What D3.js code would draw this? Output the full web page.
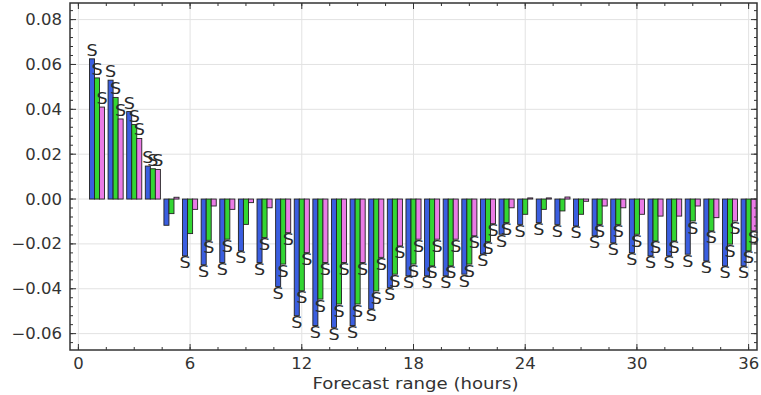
<!DOCTYPE html>
<html>
<head>
<meta charset="utf-8">
<script src="https://cdn.jsdelivr.net/npm/d3@7"></script>
<style>
  body { margin: 0; background: #fff; }
  text { font-family: "DejaVu Sans", sans-serif; }
</style>
</head>
<body>
<div id="mychart"></div>
<script>
// dados
var horas = [1,2,3,4,5,6,7,8,9,10,11,12,13,14,15,16,17,18,19,20,21,22,23,24,25,26,27,28,29,30,31,32,33,34,35,36];
var azul = [0.0625,0.053,0.039,0.0147,-0.0117,-0.0253,-0.0293,-0.0283,-0.0231,-0.0283,-0.039,-0.052,-0.0564,-0.0572,-0.0564,-0.049,-0.0394,-0.0342,-0.0342,-0.0342,-0.0335,-0.0245,-0.0157,-0.0113,-0.0105,-0.0113,-0.012,-0.0164,-0.0195,-0.0239,-0.0253,-0.0253,-0.0246,-0.0276,-0.0298,-0.0298];
var verde = [0.054,0.0453,0.0332,0.0135,-0.0065,-0.0154,-0.0184,-0.0179,-0.0113,-0.0172,-0.029,-0.0409,-0.0446,-0.0468,-0.0468,-0.041,-0.0335,-0.029,-0.0298,-0.0298,-0.029,-0.019,-0.0105,-0.0068,-0.0046,-0.0053,-0.0068,-0.0113,-0.0113,-0.0157,-0.0187,-0.0187,-0.0098,-0.0142,-0.0201,-0.0231];
var rosa = [0.041,0.0357,0.027,0.0132,0.0008,-0.0046,-0.0031,-0.0046,-0.0016,-0.0039,-0.015,-0.0239,-0.0283,-0.0283,-0.0283,-0.026,-0.0209,-0.0179,-0.0179,-0.0179,-0.0164,-0.011,-0.0039,0.0005,0.0005,0.0009,-0.001,-0.0031,-0.0039,-0.0068,-0.0076,-0.0076,-0.0031,-0.0083,-0.0098,-0.0142];
// 1 = significativo (rotulo "S")
var sigAzul = [1,1,1,1,0,1,1,1,1,1,1,1,1,1,1,1,1,1,1,1,1,1,1,1,1,1,1,1,1,1,1,1,1,1,1,1];
var sigVerde = [1,1,1,1,0,0,1,1,0,1,1,1,1,1,1,1,1,1,1,1,1,1,1,0,0,0,0,1,1,1,1,1,1,1,1,1];
var sigRosa = [1,1,1,1,0,0,0,0,0,0,1,1,1,1,1,1,1,1,1,1,1,1,0,0,0,0,0,0,0,0,0,0,0,0,1,1];
var xTicks = [0,6,12,18,24,30,36];
var yTicks = [-0.06,-0.04,-0.02,0.00,0.02,0.04,0.06,0.08];

var series = [
  {values: azul, sig: sigAzul, color: "#3a5ee0", off: -1},
  {values: verde, sig: sigVerde, color: "#33d633", off: 0},
  {values: rosa, sig: sigRosa, color: "#ea7be6", off: 1}
];

var width = 761, height = 395;
var margin = {top: 3, right: 4, bottom: 45, left: 70};
var w = width - margin.left - margin.right,
    h = height - margin.top - margin.bottom;
var sx = 1.1; // texto um pouco esticado na horizontal

var svg = d3.select("#mychart").append("svg")
  .attr("width", width).attr("height", height)
  .append("g")
  .attr("transform", "translate(" + margin.left + "," + margin.top + ")");

var x = d3.scaleLinear().domain([-0.45, 36.45]).range([0, w]);
var y = d3.scaleLinear().domain([-0.0673, 0.0874]).range([h, 0]);
var bw = 0.27;

// grade
svg.append("g").selectAll("line").data(xTicks).enter().append("line")
  .attr("x1", function(d){ return x(d); }).attr("x2", function(d){ return x(d); })
  .attr("y1", 0).attr("y2", h).attr("stroke", "#e2e2e2").attr("stroke-width", 1);
svg.append("g").selectAll("line").data(yTicks).enter().append("line")
  .attr("y1", function(d){ return y(d); }).attr("y2", function(d){ return y(d); })
  .attr("x1", 0).attr("x2", w).attr("stroke", "#e2e2e2").attr("stroke-width", 1);

// barras
series.forEach(function(s){
  svg.append("g").selectAll("rect").data(horas).enter().append("rect")
    .attr("x", function(d){ return x(d + s.off * bw - bw / 2); })
    .attr("width", x(bw) - x(0))
    .attr("y", function(d, i){ return y(Math.max(0, s.values[i])); })
    .attr("height", function(d, i){ return Math.abs(y(s.values[i]) - y(0)); })
    .attr("fill", s.color).attr("stroke", "#222").attr("stroke-width", 0.9);
});

// rotulos S
series.forEach(function(s){
  svg.append("g").selectAll("text").data(horas.filter(function(d, i){ return s.sig[i]; }))
    .enter().append("text")
    .attr("transform", function(d){
      var v = s.values[d - 1];
      var ty = v > 0 ? y(v) - 3 : y(v) + 12.5;
      return "translate(" + x(d + s.off * bw) + "," + ty + ") scale(" + sx + ",1)";
    })
    .attr("text-anchor", "middle").attr("font-size", "16px").attr("fill", "#2a2a2a")
    .text("S");
});

// eixos com ticks para dentro
var xMinor = d3.range(0, 36.01, 1.5);
var yMinor = d3.range(-0.064, 0.0874, 0.004);
function ticksX(yPos, dir){
  var g = svg.append("g");
  g.selectAll(".mn").data(xMinor).enter().append("line")
    .attr("x1", function(d){ return x(d); }).attr("x2", function(d){ return x(d); })
    .attr("y1", yPos).attr("y2", yPos + dir * 3).attr("stroke", "#333");
  g.selectAll(".mj").data(xTicks).enter().append("line")
    .attr("x1", function(d){ return x(d); }).attr("x2", function(d){ return x(d); })
    .attr("y1", yPos).attr("y2", yPos + dir * 6).attr("stroke", "#333");
}
function ticksY(xPos, dir){
  var g = svg.append("g");
  g.selectAll(".mn").data(yMinor).enter().append("line")
    .attr("y1", function(d){ return y(d); }).attr("y2", function(d){ return y(d); })
    .attr("x1", xPos).attr("x2", xPos + dir * 3).attr("stroke", "#333");
  g.selectAll(".mj").data(yTicks).enter().append("line")
    .attr("y1", function(d){ return y(d); }).attr("y2", function(d){ return y(d); })
    .attr("x1", xPos).attr("x2", xPos + dir * 6).attr("stroke", "#333");
}
ticksX(h, -1); ticksX(0, 1);
ticksY(0, 1); ticksY(w, -1);

svg.append("g").selectAll("text").data(xTicks).enter().append("text")
  .attr("transform", function(d){ return "translate(" + x(d) + "," + (h + 19) + ") scale(" + sx + ",1)"; })
  .attr("text-anchor", "middle").attr("font-size", "15px").attr("fill", "#333")
  .text(function(d){ return d; });
svg.append("g").selectAll("text").data(yTicks).enter().append("text")
  .attr("transform", function(d){ return "translate(-8," + (y(d) + 5.5) + ") scale(" + sx + ",1)"; })
  .attr("text-anchor", "end").attr("font-size", "15px").attr("fill", "#333")
  .text(function(d){ return d3.format(".2f")(d).replace("-", "\u2212"); });

svg.append("text")
  .attr("transform", "translate(" + (w / 2 + 2) + "," + (h + 39) + ") scale(" + sx + ",1)")
  .attr("text-anchor", "middle").attr("font-size", "16.5px").attr("fill", "#333")
  .text("Forecast range (hours)");

// moldura
svg.append("rect").attr("x", 0).attr("y", 0).attr("width", w).attr("height", h)
  .attr("fill", "none").attr("stroke", "#333").attr("stroke-width", 1.5);
</script>
</body>
</html>
